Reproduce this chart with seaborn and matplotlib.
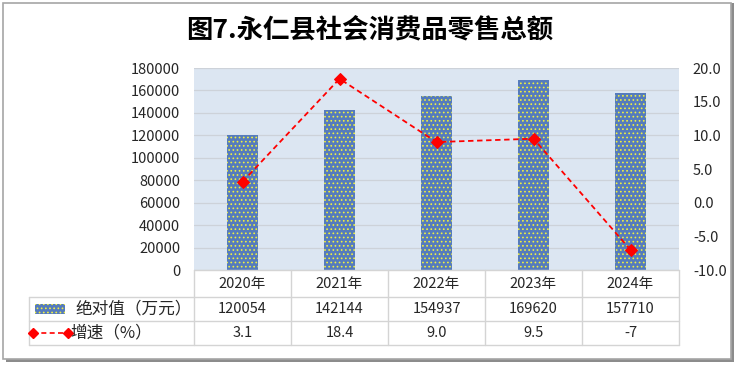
import matplotlib
matplotlib.use("Agg")
import matplotlib.pyplot as plt
import matplotlib.transforms as mtransforms
from matplotlib.patches import Rectangle
from matplotlib.lines import Line2D
import seaborn as sns
import pandas as pd

# 数据
years = ["2020年", "2021年", "2022年", "2023年", "2024年"]
totals = [120054, 142144, 154937, 169620, 157710]
growth = [3.1, 18.4, 9.0, 9.5, -7]
growth_labels = ["3.1", "18.4", "9.0", "9.5", "-7"]
bar_label = "绝对值（万元）"
line_label = "增速（%）"
title = "图7.永仁县社会消费品零售总额"

sns.set_style("white")
plt.rcParams["font.family"] = ["Noto Sans CJK SC", "DejaVu Sans"]
plt.rcParams["hatch.linewidth"] = 0.7

BAR_BLUE = "#557BBD"
DOT_YEL = "#F0F040"
BG = "#DCE6F2"
GRID = "#CDD2D9"
TXT = "#262626"
FS = 10.5
HATCH = "...."

W, H = 740, 368
fig = plt.figure(figsize=(W / 100, H / 100), dpi=100)

def fx(px):
    return px / W

def fy(py):
    return 1 - py / H

# 外框 + 阴影
fig.add_artist(Rectangle((fx(6), fy(362)), fx(728), 359 / H, transform=fig.transFigure,
                         facecolor="#8C8C8C", edgecolor="none", zorder=-3))
fig.add_artist(Rectangle((fx(3), fy(359)), fx(728), 356 / H, transform=fig.transFigure,
                         facecolor="white", edgecolor="#A6A6A6", lw=1.2, zorder=-2))

ax = fig.add_axes([fx(194), fy(270), fx(679 - 194), (270 - 68) / H])
ax.set_facecolor(BG)

df = pd.DataFrame({"year": years, "total": totals, "growth": growth})
sns.barplot(data=df, x="year", y="total", ax=ax, width=0.31, color=BAR_BLUE,
            saturation=1, zorder=3)
for p in ax.patches:
    p.set_facecolor(BAR_BLUE)
    p.set_hatch(HATCH)
    p.set_edgecolor(DOT_YEL)
    p.set_linewidth(0)

ax.set_ylim(0, 180000)
ax.set_yticks(range(0, 180001, 20000))
ax.set_xlim(-0.5, 4.5)
ax.grid(axis="y", color=GRID, lw=0.9, zorder=0)
ax.set_axisbelow(True)
ax.set_xticklabels([])
ax.set_xlabel("")
ax.set_ylabel("")
ax.tick_params(axis="y", length=0, pad=10, labelsize=FS, labelcolor=TXT)
ax.tick_params(axis="x", length=0)
for s in ax.spines.values():
    s.set_visible(False)

ax2 = ax.twinx()
sns.lineplot(data=df, x="year", y="growth", ax=ax2, color="#FF0000", lw=1.3,
             linestyle=(0, (3, 2)), marker="D", markersize=6, markeredgecolor="#FF0000",
             sort=False, zorder=5)
ax2.set_ylim(-10, 20)
ax2.set_yticks(range(-10, 21, 5))
ax2.set_yticklabels([f"{v:.1f}" for v in range(-10, 21, 5)])
ax2.set_ylabel("")
ax2.set_xlabel("")
ax2.tick_params(axis="y", length=0, pad=10, labelsize=FS, labelcolor=TXT)
for s in ax2.spines.values():
    s.set_visible(False)

fig.text(0.5, fy(30), title, ha="center", va="center", fontsize=19, fontweight="bold",
         color="black")

# 数据表
tr = mtransforms.blended_transform_factory(ax.transData, fig.transFigure)
row_y = [270, 297, 321, 345]
tcol = "#D4D4D4"
n = len(years)
fig.add_artist(Line2D([fx(194), fx(679)], [fy(270)] * 2, transform=fig.transFigure, color=tcol, lw=1))
for py in row_y[1:]:
    fig.add_artist(Line2D([fx(29), fx(679)], [fy(py)] * 2, transform=fig.transFigure, color=tcol, lw=1))
fig.add_artist(Line2D([fx(29)] * 2, [fy(297), fy(345)], transform=fig.transFigure, color=tcol, lw=1))
for i in range(n + 1):
    fig.add_artist(Line2D([i - 0.5] * 2, [fy(270), fy(345)], transform=tr, color=tcol, lw=1))

for i in range(n):
    fig.text(i, fy(284), years[i], transform=tr, ha="center", va="center", fontsize=FS, color=TXT)
    fig.text(i, fy(309), str(totals[i]), transform=tr, ha="center", va="center", fontsize=FS, color=TXT)
    fig.text(i, fy(333), growth_labels[i], transform=tr, ha="center", va="center", fontsize=FS, color=TXT)

# 图例
fig.add_artist(Rectangle((fx(35), fy(314)), fx(30), 10 / H, transform=fig.transFigure,
                         facecolor=BAR_BLUE, hatch=HATCH, edgecolor=DOT_YEL, lw=0))
fig.text(fx(75), fy(309), bar_label, ha="left", va="center", fontsize=12, color=TXT)
fig.add_artist(Line2D([fx(33), fx(68)], [fy(333)] * 2, transform=fig.transFigure, color="#FF0000",
                      lw=1.2, linestyle=(0, (3, 2)), marker="D", markersize=5, markevery=[0, 1]))
fig.text(fx(70), fy(333), line_label, ha="left", va="center", fontsize=12, color=TXT)

fig.savefig("out.png", dpi=100)
